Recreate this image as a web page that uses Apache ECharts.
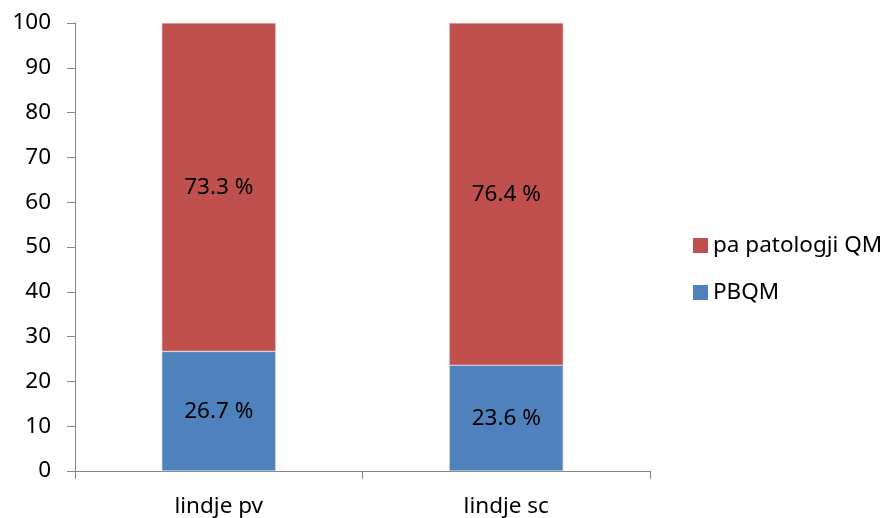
<!DOCTYPE html>
<html>
<head>
<meta charset="utf-8">
<script src="https://cdn.jsdelivr.net/npm/echarts@6/dist/echarts.min.js"></script>
<style>
  html, body { margin: 0; padding: 0; background: #fff; }
  #chart { width: 890px; height: 518px; }
</style>
</head>
<body>
<div id="chart"></div>
<script>
const categories = ['lindje pv', 'lindje sc'];
const pbqm = [26.7, 23.6];
const patologji = [73.3, 76.4];
const yTicks = [0, 10, 20, 30, 40, 50, 60, 70, 80, 90, 100];

const FONT = 'Noto Sans';
const FONT_SIZE = 22.5;
const axisColor = '#868686';

const chart = echarts.init(document.getElementById('chart'), null, { renderer: 'canvas' });

const labelStyle = {
  show: true,
  position: 'inside',
  color: '#000',
  fontFamily: FONT,
  fontSize: FONT_SIZE,
  formatter: p => p.value.toFixed(1) + ' %'
};

chart.setOption({
  animation: false,
  backgroundColor: '#fff',
  grid: { left: 75, right: 240, top: 23, bottom: 45, containLabel: false },
  legend: {
    orient: 'vertical',
    left: 688,
    top: 229,
    itemWidth: 15,
    itemHeight: 15,
    itemGap: 24,
    icon: 'rect',
    itemStyle: { borderWidth: 0 },
    textStyle: { fontFamily: FONT, fontSize: FONT_SIZE, color: '#000' },
    data: ['pa patologji QM', 'PBQM']
  },
  xAxis: {
    type: 'category',
    data: categories,
    axisLine: { lineStyle: { color: axisColor, width: 1 } },
    axisTick: { show: true, length: 8, alignWithLabel: false, lineStyle: { color: axisColor } },
    axisLabel: { fontFamily: FONT, fontSize: FONT_SIZE, color: '#000', margin: 24 }
  },
  yAxis: {
    type: 'value',
    min: yTicks[0],
    max: yTicks[yTicks.length - 1],
    interval: 10,
    splitLine: { show: false },
    axisLine: { show: true, lineStyle: { color: axisColor, width: 1 } },
    axisTick: { show: true, length: 8, lineStyle: { color: axisColor } },
    axisLabel: { fontFamily: FONT, fontSize: FONT_SIZE, color: '#000', margin: 24 }
  },
  series: [
    {
      name: 'PBQM',
      type: 'bar',
      stack: 'total',
      barWidth: 114,
      data: pbqm,
      itemStyle: { color: '#4F81BD', borderColor: '#c9d7ea', borderWidth: 0.6 },
      label: labelStyle
    },
    {
      name: 'pa patologji QM',
      type: 'bar',
      stack: 'total',
      barWidth: 114,
      data: patologji,
      itemStyle: { color: '#C0504D', borderColor: '#e6b9b8', borderWidth: 0.6 },
      label: labelStyle
    }
  ]
});
</script>
</body>
</html>
